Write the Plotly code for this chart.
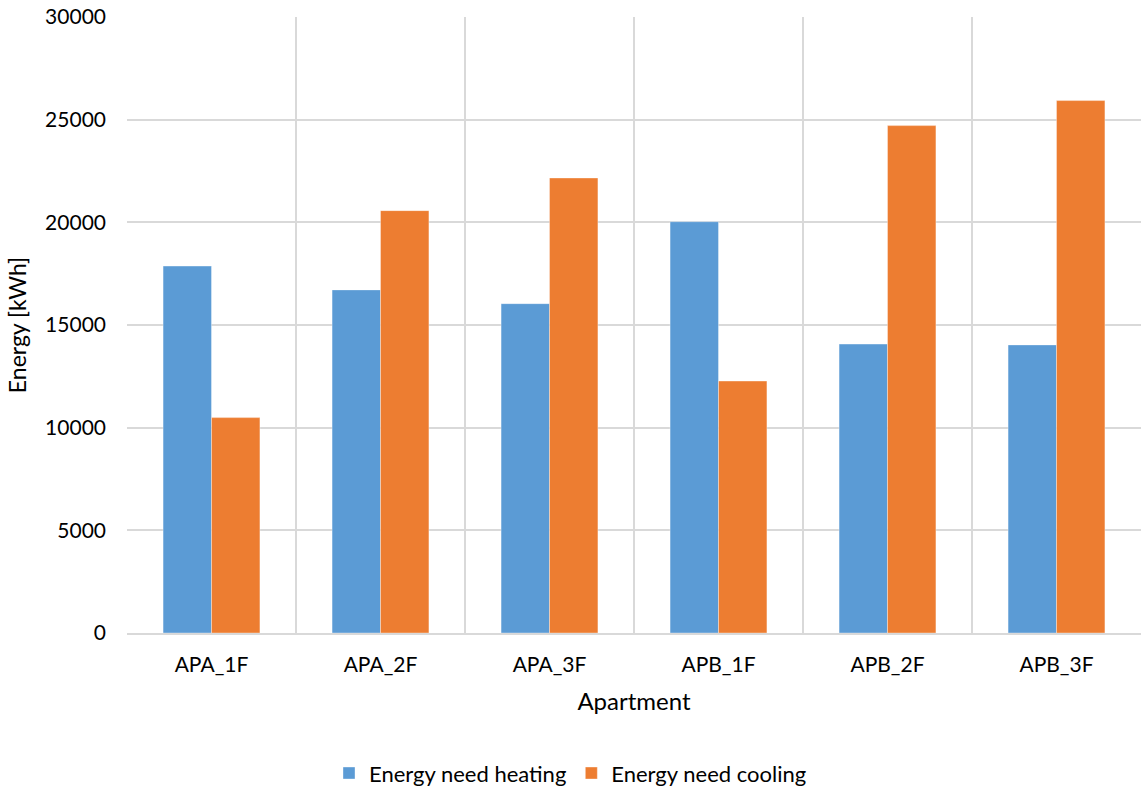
import plotly.graph_objects as go

# Annual energy need per apartment
apartments = ["APA_1F", "APA_2F", "APA_3F", "APB_1F", "APB_2F", "APB_3F"]
heating = [17870, 16710, 16040, 20030, 14070, 14030]
cooling = [10490, 20570, 22160, 12270, 24710, 25930]
y_ticks = [0, 5000, 10000, 15000, 20000, 25000, 30000]

FONT = "Lato, 'Open Sans', sans-serif"
GRID = "#d9d9d9"

fig = go.Figure()
fig.add_trace(go.Bar(
    x=apartments, y=heating, name="Energy need heating",
    marker=dict(color="#5B9BD5", line=dict(color="rgba(255,255,255,0.6)", width=0.6)),
))
fig.add_trace(go.Bar(
    x=apartments, y=cooling, name="Energy need cooling",
    marker=dict(color="#ED7D31", line=dict(color="rgba(255,255,255,0.6)", width=0.6)),
))

fig.update_layout(
    width=1141, height=789,
    margin=dict(l=127, r=0, t=17, b=156, autoexpand=False),
    paper_bgcolor="white", plot_bgcolor="white",
    barmode="group", bargap=0.427, bargroupgap=0,
    font=dict(family=FONT, size=21, color="#000000"),
    legend=dict(
        orientation="h", xref="container", yref="container",
        x=0.5, xanchor="center", y=0.02, yanchor="middle",
        font=dict(size=22), itemwidth=30, traceorder="normal",
    ),
    showlegend=True,
)

fig.update_xaxes(
    type="category", range=[-0.5, 5.5],
    tickson="boundaries", ticks="", showgrid=True, gridcolor=GRID, gridwidth=1.5,
    showline=True, linecolor=GRID, linewidth=1.5,
    tickfont=dict(size=21), ticklabelstandoff=12,
    title=dict(text="Apartment", font=dict(size=24), standoff=18),
)
fig.update_yaxes(
    range=[0, 30000], tickvals=y_ticks, ticktext=[str(v) for v in y_ticks],
    showgrid=True, gridcolor=GRID, gridwidth=1.5, zeroline=False,
    showline=False, ticks="", tickfont=dict(size=21), ticklabelstandoff=20,
    title=dict(text="Energy [kWh]", font=dict(size=23), standoff=12),
)

fig.write_html("out.html")
